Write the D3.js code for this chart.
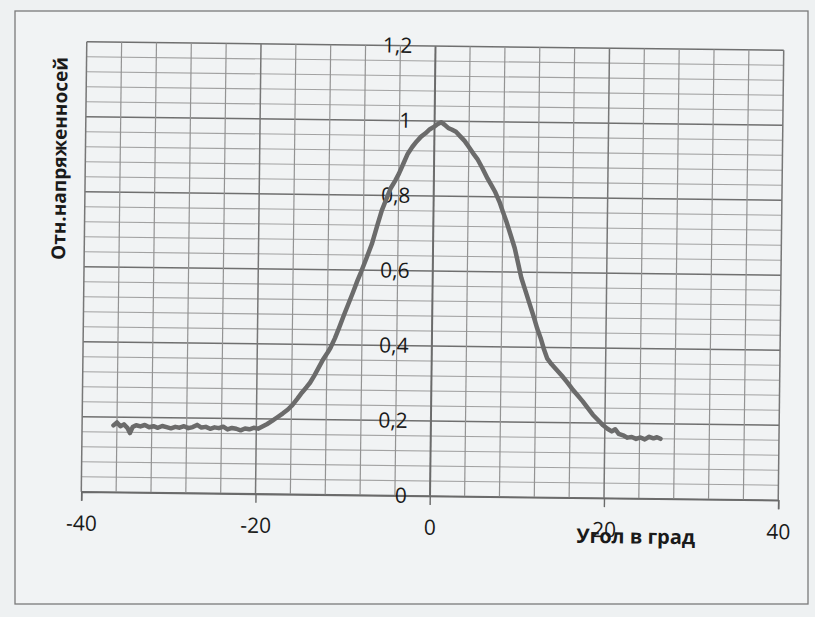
<!DOCTYPE html>
<html>
<head>
<meta charset="utf-8">
<script src="https://cdn.jsdelivr.net/npm/d3@7"></script>
<style>
  body { margin: 0; background: #eef1f2; }
  svg { display: block; }
  text { font-family: "Open Sans", "Liberation Sans", sans-serif; fill: #1a1a1a; }
</style>
</head>
<body>
<svg id="chart"></svg>
<script>
// Measured curve: angle (deg) and relative field strength
const angles = [
  -36.4, -36.0, -35.6, -35.2, -34.8, -34.5, -34.2, -33.8, -33.3, -32.8,
  -32.3, -31.8, -31.3, -30.8, -30.3, -29.8, -29.3, -28.8, -28.3, -27.8,
  -27.3, -26.8, -26.3, -25.8, -25.3, -24.8, -24.3, -23.8, -23.3, -22.8,
  -22.3, -21.8, -21.3, -20.8, -20.3, -19.8, -19.3, -18.8, -18.2, -17.6,
  -17.0, -16.4, -15.9, -15.3, -14.8, -14.3, -13.9, -13.4, -12.9, -12.4,
  -11.9, -11.6, -11.1, -10.6, -10.1, -9.6, -9.1, -8.6, -8.2, -7.6,
  -7.0, -6.4, -5.9, -5.4, -4.9, -4.4, -4.0, -3.5, -3.0, -2.5,
  -2.0, -1.5, -1.0, -0.5, 0.0, 0.4, 0.8, 1.2, 1.6, 2.0,
  2.5, 3.0, 3.5, 4.0, 4.5, 5.0, 5.6, 6.2, 6.7, 7.1,
  7.6, 8.0, 8.4, 8.9, 9.4, 9.8, 10.2, 10.7, 11.2, 11.7,
  12.1, 12.5, 12.9, 13.3, 13.8, 14.4, 15.0, 15.6, 16.2, 16.8,
  17.4, 18.0, 18.6, 19.2, 19.8, 20.3, 20.8, 21.2, 21.6, 22.1,
  22.6, 23.1, 23.6, 24.1, 24.6, 25.1, 25.6, 26.0, 26.4
];
const values = [
  0.178, 0.186, 0.176, 0.181, 0.172, 0.158, 0.174, 0.179, 0.176, 0.180,
  0.174, 0.177, 0.173, 0.178, 0.175, 0.172, 0.176, 0.174, 0.178, 0.173,
  0.176, 0.182, 0.175, 0.177, 0.172, 0.176, 0.174, 0.178, 0.171, 0.175,
  0.173, 0.169, 0.174, 0.172, 0.176, 0.174, 0.180, 0.186, 0.195, 0.205,
  0.215, 0.226, 0.238, 0.256, 0.272, 0.286, 0.298, 0.318, 0.340, 0.362,
  0.380, 0.392, 0.418, 0.448, 0.480, 0.510, 0.540, 0.572, 0.595, 0.632,
  0.670, 0.720, 0.760, 0.790, 0.820, 0.840, 0.858, 0.885, 0.912, 0.930,
  0.945, 0.958, 0.967, 0.978, 0.985, 0.992, 0.997, 0.990, 0.982, 0.978,
  0.972, 0.960, 0.948, 0.932, 0.915, 0.900, 0.875, 0.848, 0.828, 0.812,
  0.786, 0.760, 0.735, 0.700, 0.664, 0.625, 0.585, 0.550, 0.515, 0.480,
  0.450, 0.425, 0.395, 0.370, 0.355, 0.340, 0.325, 0.308, 0.290, 0.274,
  0.258, 0.240, 0.222, 0.208, 0.194, 0.185, 0.178, 0.184, 0.172, 0.168,
  0.162, 0.164, 0.159, 0.163, 0.158, 0.165, 0.161, 0.164, 0.160
];

const xTicks = [-40, -20, 0, 20, 40];
const yTicks = [0, 0.2, 0.4, 0.6, 0.8, 1, 1.2];
const xTitle = "Угол в град";
const yTitle = "Отн.напряженносей";

const W = 815, H = 617;
const svg = d3.select("#chart").attr("width", W).attr("height", H);

// outer chart frame
svg.append("rect")
  .attr("x", 15).attr("y", 11)
  .attr("width", 793).attr("height", 593)
  .attr("fill", "#f1f3f4")
  .attr("stroke", "#7a7a7a")
  .attr("stroke-width", 1.3);

// the scan is slightly rotated, so the whole chart is too
const g = svg.append("g").attr("transform", "rotate(0.7, 432, 271)");

const x = d3.scaleLinear().domain([-40, 40]).range([84, 781]);
const y = d3.scaleLinear().domain([0, 1.2]).range([496, 46]);

// horizontal grid (every 0.04, darker every 0.2)
const hLines = d3.range(0, 31).map(i => i * 0.04);
g.append("g").selectAll("line")
  .data(hLines)
  .enter().append("line")
  .attr("x1", x(-40)).attr("x2", x(40))
  .attr("y1", d => y(d)).attr("y2", d => y(d))
  .attr("stroke", (d, i) => i % 5 === 0 ? "#6f6f6f" : "#a2a2a2")
  .attr("stroke-width", (d, i) => i % 5 === 0 ? 1.5 : 1.1);

// vertical grid (every 4 degrees)
const vLines = d3.range(-40, 41, 4);
g.append("g").selectAll("line")
  .data(vLines)
  .enter().append("line")
  .attr("x1", d => x(d)).attr("x2", d => x(d))
  .attr("y1", y(0)).attr("y2", y(1.2))
  .attr("stroke", d => d % 20 === 0 ? "#777" : "#939393")
  .attr("stroke-width", d => d % 20 === 0 ? 1.5 : 1.2);

// x axis at y = 0
const xAxis = g.append("g")
  .attr("transform", "translate(0," + y(0) + ")")
  .call(d3.axisBottom(x).tickValues(xTicks).tickSize(9).tickPadding(15).tickFormat(d => d));
xAxis.select(".domain").attr("stroke", "#6a6a6a").attr("stroke-width", 1.6);
xAxis.selectAll(".tick line").attr("stroke", "#6a6a6a").attr("stroke-width", 1.4);
xAxis.selectAll("text")
  .style("font-size", "21px")
  .style("font-family", "'Open Sans', sans-serif")
  .attr("fill", "#1a1a1a");

// y axis at x = 0
const yAxis = g.append("g")
  .attr("transform", "translate(" + x(0) + ",0)")
  .call(d3.axisLeft(y).tickValues(yTicks).tickSize(0).tickPadding(23)
    .tickFormat(d => String(+d.toFixed(1)).replace(".", ",")));
yAxis.select(".domain").attr("stroke", "#6a6a6a").attr("stroke-width", 1.5);
yAxis.selectAll("text")
  .style("font-size", "21px")
  .style("font-family", "'Open Sans', sans-serif")
  .attr("fill", "#1a1a1a");

// the curve
const line = d3.line()
  .x((d, i) => x(angles[i]))
  .y(d => y(d));

g.append("path")
  .datum(values)
  .attr("fill", "none")
  .attr("stroke", "#6b6b6b")
  .attr("stroke-width", 4.5)
  .attr("stroke-linejoin", "round")
  .attr("stroke-linecap", "round")
  .attr("d", line);

// axis titles
g.append("text")
  .attr("x", 639)
  .attr("y", 541)
  .attr("text-anchor", "middle")
  .style("font-size", "20px")
  .style("font-weight", "bold")
  .text(xTitle);

g.append("text")
  .attr("transform", "rotate(-90)")
  .attr("x", -163)
  .attr("y", 65)
  .attr("text-anchor", "middle")
  .style("font-size", "19px")
  .style("font-weight", "bold")
  .text(yTitle);
</script>
</body>
</html>
